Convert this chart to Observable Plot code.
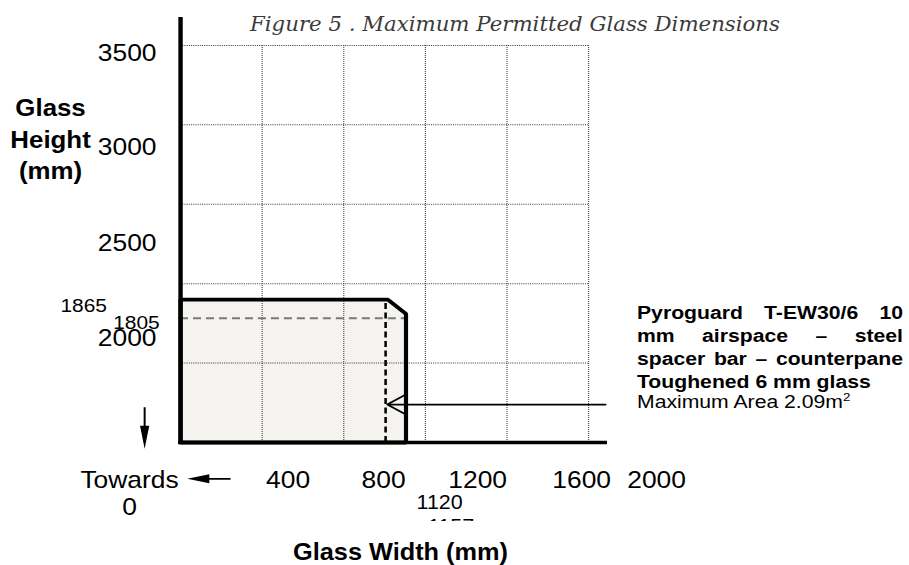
<!DOCTYPE html>
<html>
<head>
<meta charset="utf-8">
<script src="https://cdn.jsdelivr.net/npm/d3@7"></script>
<script src="https://cdn.jsdelivr.net/npm/@observablehq/plot@0.6"></script>
<style>
  html, body { margin: 0; padding: 0; background: #ffffff; }
  #wrap { position: relative; width: 909px; height: 565px; overflow: hidden; background: #ffffff; }
  #chart { position: absolute; left: 0; top: 0; }
  #title { position: absolute; left: 250px; top: 12px; font-family: "DejaVu Serif", serif; font-style: italic;
           font-size: 20.5px; line-height: 24px; color: #3b3b3b; white-space: nowrap; transform-origin: 0 0; }
  #note { position: absolute; left: 637px; top: 301.6px; width: 219.8px; font-family: "Liberation Sans", Arial, sans-serif;
          font-size: 17.5px; line-height: 23.3px; color: #000; transform: scaleX(1.21); transform-origin: 0 0; }
  #note .b { font-weight: bold; white-space: nowrap; }
  #note .j { text-align: justify; text-align-last: justify; white-space: normal; }
  #note .r { line-height: 14.2px; white-space: nowrap; }
  #note .sup { font-size: 11px; position: relative; top: -7px; }
  #clip1157 { position: absolute; left: 428px; top: 519px; width: 60px; height: 2px; overflow: hidden; }
  #clip1157 div { position: absolute; left: 0; top: -2.8px; font-family: "Liberation Sans", Arial, sans-serif;
                  font-size: 19.5px; line-height: 20px; color: #000; transform: scaleX(1.1); transform-origin: 0 0; white-space: nowrap; }
</style>
</head>
<body>
<div id="wrap">
  <div id="chart"></div>
  <div id="title">Figure 5 . Maximum Permitted Glass Dimensions</div>
  <div id="note">
    <div class="b j">Pyroguard T-EW30/6 10</div>
    <div class="b j">mm airspace – steel</div>
    <div class="b j">spacer bar – counterpane</div>
    <div class="b">Toughened 6 mm glass</div>
    <div class="r">Maximum Area 2.09m<span class="sup">2</span></div>
  </div>
  <div id="clip1157"><div>1157</div></div>
</div>
<script>
// ---------- data ----------
const baseY = 1000;                       // value at the bottom (truncated) axis
const topY = 3676;                        // top end of the height axis line
const axisEndX = 2083;                    // right end of the width axis line
const xGrid = [400, 800, 1200, 1600, 2000];
const yGrid = [1500, 2000, 2500, 3000, 3500];
// permitted glass envelope (width, height)
const envelopeW = [0, 0, 1016, 1105, 1105, 0];
const envelopeH = [1000, 1900, 1900, 1810, 1000, 1000];
const limitW = [1005];                    // dashed vertical limit
const limitH = [1783];                    // dashed horizontal limit
const pointerFrom = [2083], pointerTo = [1013], pointerH = [1239];
// tick labels as printed
const xTickLabels = ["Towards\n0", "400", "800", "1200", "1600", "2000"];
const xTickAt = [-250, 527, 995, 1456, 1966, 2333];
const yTickLabels = ["3500", "3000", "2500", "2000"];
const yTickAt = [3451, 2857, 2253, 1655];
const heightMarks = ["1865", "1805"];
const heightMarkX = [-475, -216];
const heightMarkY = [1863, 1756];
const widthMarks = ["1120"];
const widthMarkX = [1270];
// "towards 0" arrows
const downArrowX = [-176], downArrowFrom = [1222], downArrowTip = [960];
const leftArrowY = [771], leftArrowFrom = [245], leftArrowTip = [33];

// ---------- build ----------
const S = 909 / 826;   // the figure is drawn slightly stretched horizontally
const W = 826, H = 565;

const envelope = envelopeW.map((w, i) => ({x: w, y: envelopeH[i]}));
const envelopeTop = envelope.filter(d => d.y > baseY);
const pointer = pointerFrom.map((f, i) => ({x1: f, x2: pointerTo[i], y: pointerH[i]}));
const downArrows = downArrowX.map((x, i) => ({x, y1: downArrowFrom[i], y2: downArrowTip[i]}));
const leftArrows = leftArrowY.map((y, i) => ({y, x1: leftArrowFrom[i], x2: leftArrowTip[i]}));

const headDown = {draw(ctx) { ctx.moveTo(0, 0); ctx.lineTo(-4.2, -23); ctx.lineTo(4.2, -23); ctx.closePath(); }};
const headLeft = {draw(ctx) { ctx.moveTo(0, 0); ctx.lineTo(20, -4.5); ctx.lineTo(20, 4.5); ctx.closePath(); }};

const pointerSW = 1.7;
const font = '"Liberation Sans", Arial, sans-serif';

const svg = Plot.plot({
  width: W,
  height: H,
  marginLeft: 180 / S,
  marginRight: 304 / S,
  marginTop: 17,
  marginBottom: 123,
  x: {domain: [0, axisEndX], axis: null},
  y: {domain: [baseY, topY], axis: null},
  style: {fontFamily: font, color: "black", background: "transparent", overflow: "visible"},
  marks: [
    // envelope fill
    Plot.areaY(envelopeTop, {x: "x", y1: () => baseY, y2: "y", fill: "#f4f3ef"}),
    // dotted grid
    Plot.ruleX(xGrid, {y1: () => baseY, y2: () => 3500, stroke: "#444", strokeWidth: 1, strokeDasharray: "1,1"}),
    Plot.ruleY(yGrid, {x1: () => 0, x2: () => 2000, stroke: "#444", strokeWidth: 1, strokeDasharray: "1,1"}),
    // dashed limits
    Plot.ruleY(limitH, {x1: () => 0, x2: () => 1105, stroke: "#7a7a7a", strokeWidth: 2, strokeDasharray: "7.3,4.5"}),
    Plot.ruleX(limitW, {y1: () => baseY, y2: () => 1900, stroke: "#000", strokeWidth: 2.3, strokeDasharray: "6,3.5"}),
    // envelope outline
    Plot.line(envelope, {x: "x", y: "y", stroke: "#000", strokeWidth: 3.8, strokeLinejoin: "miter"}),
    // axes
    Plot.ruleX([0], {y1: () => baseY, y2: () => topY, stroke: "#000", strokeWidth: 4}),
    Plot.ruleY([baseY], {x1: () => 0, x2: () => axisEndX, stroke: "#000", strokeWidth: 3.6, strokeLinecap: "square"}),
    // pointer arrow
    Plot.arrow(pointer, {x1: "x1", x2: "x2", y1: "y", y2: "y", stroke: "#000", strokeWidth: pointerSW,
      headAngle: 61, headLength: 17.7 * 1.5 / pointerSW}),
    // "towards 0" arrows
    Plot.link(downArrows, {x1: "x", x2: "x", y1: "y1", y2: d => d.y2 + 90, stroke: "#000", strokeWidth: 1.8}),
    Plot.dot(downArrows, {x: "x", y: "y2", symbol: headDown, fill: "#000", stroke: "none"}),
    Plot.link(leftArrows, {y1: "y", y2: "y", x1: "x1", x2: d => d.x2 + 50, stroke: "#000", strokeWidth: 1.8}),
    Plot.dot(leftArrows, {x: "x2", y: "y", symbol: headLeft, fill: "#000", stroke: "none"}),
    // tick labels
    Plot.text(yTickLabels, {frameAnchor: "left", y: (d, i) => yTickAt[i], text: d => d, textAnchor: "end",
      dx: -24 / S, fontSize: 24, fill: "#000"}),
    Plot.text(xTickLabels, {frameAnchor: "bottom", x: (d, i) => xTickAt[i], text: d => d, textAnchor: "middle",
      lineAnchor: "top", dy: 26.5, lineHeight: 1.125, fontSize: 24, fill: "#000"}),
    Plot.text(heightMarks, {x: (d, i) => heightMarkX[i], y: (d, i) => heightMarkY[i], text: d => d,
      textAnchor: "middle", fontSize: 19, fill: "#000"}),
    Plot.text(widthMarks, {frameAnchor: "bottom", x: (d, i) => widthMarkX[i], text: d => d,
      textAnchor: "middle", lineAnchor: "top", dy: 53, fontSize: 19.5, fill: "#000"}),
    // axis titles
    Plot.text(["Glass\nHeight\n(mm)"], {frameAnchor: "left", y: () => 2920, text: d => d, dx: -130 / S,
      textAnchor: "middle", lineAnchor: "middle", lineHeight: 1.33, fontSize: 23.5, fontWeight: "bold", fill: "#000"}),
    Plot.text(["Glass Width (mm)"], {frameAnchor: "bottom", x: () => 1078, text: d => d, textAnchor: "middle",
      lineAnchor: "top", dy: 101.5, fontSize: 23, fontWeight: "bold", fill: "#000"})
  ]
});

svg.setAttribute("width", 909);
svg.setAttribute("height", 565);
svg.setAttribute("preserveAspectRatio", "none");
svg.style.width = "909px";
svg.style.height = "565px";
svg.style.maxWidth = "none";
document.getElementById("chart").appendChild(svg);

// fit the title to its printed width
const title = document.getElementById("title");
const tw = title.getBoundingClientRect().width;
title.style.transform = `scaleX(${530 / tw})`;
</script>
</body>
</html>
